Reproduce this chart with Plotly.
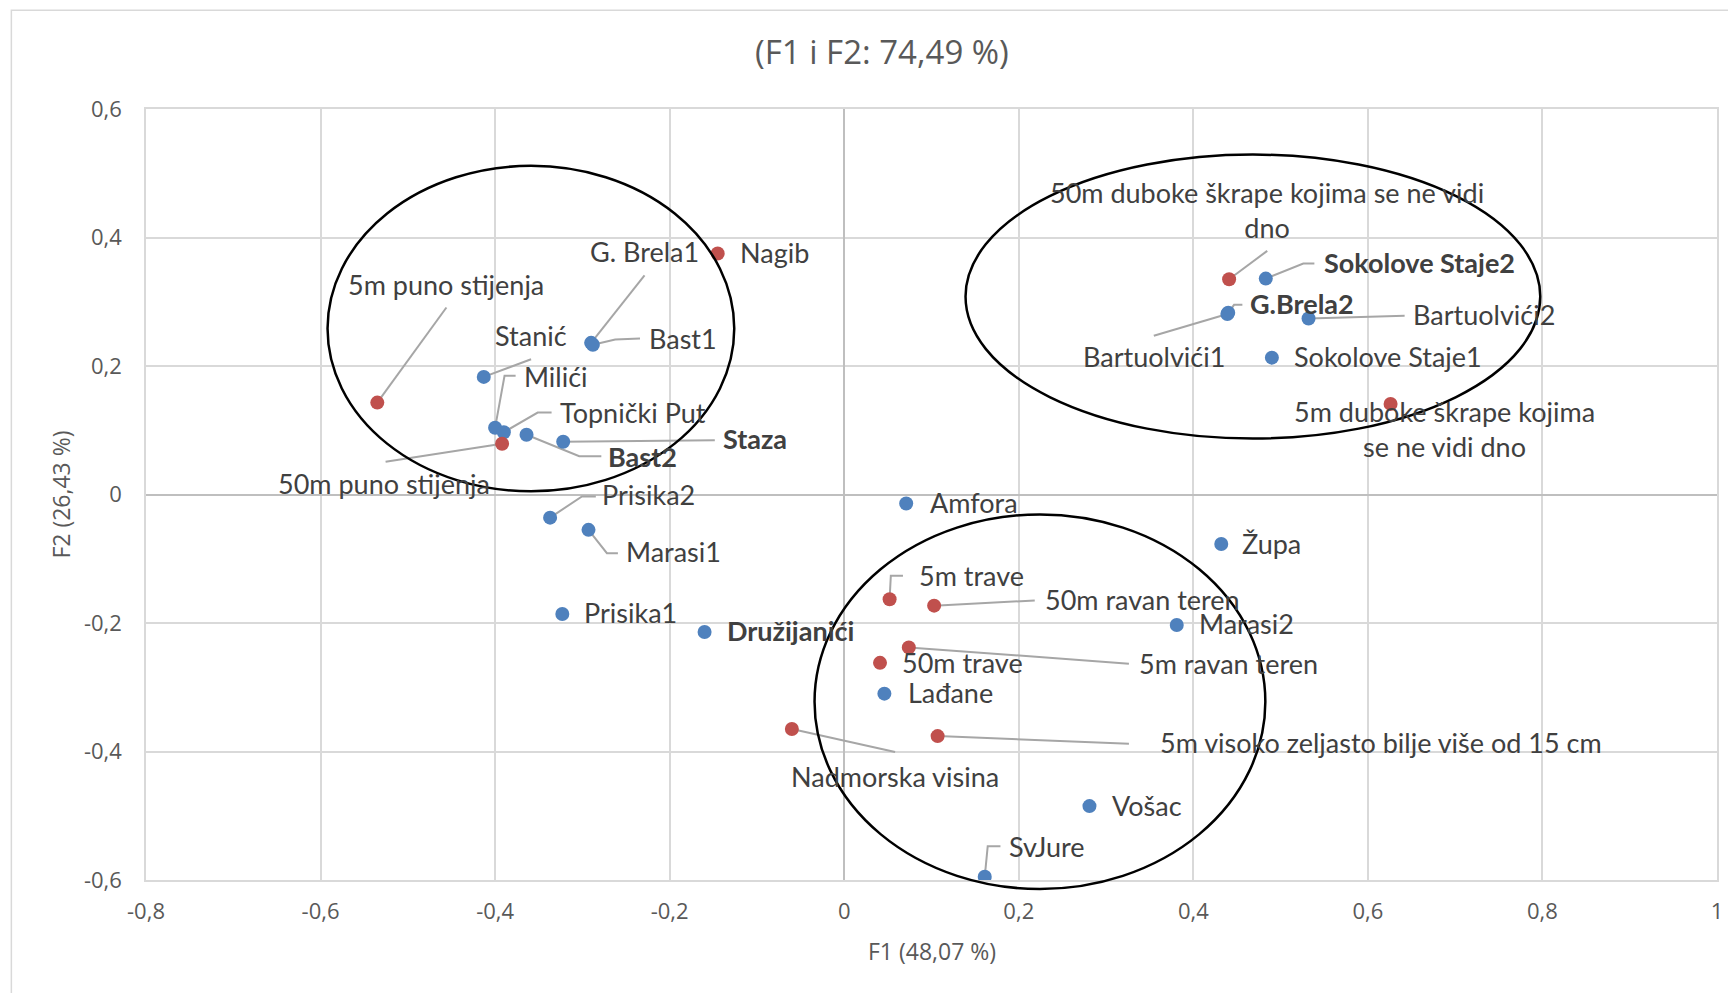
import plotly.graph_objects as go

# ---------------- data ----------------
site_names = ["G. Brela1", "Bast1", "Stanić", "Milići", "Topnički Put", "Bast2", "Staza",
              "Prisika2", "Marasi1", "Prisika1", "Družijanići", "Amfora", "Župa", "Marasi2",
              "Lađane", "Vošac", "SvJure", "Sokolove Staje2", "G.Brela2", "Bartuolvići1",
              "Bartuolvići2", "Sokolove Staje1"]
site_f1 = [-0.290, -0.288, -0.413, -0.400, -0.390, -0.364, -0.322,
           -0.337, -0.293, -0.323, -0.160, 0.071, 0.432, 0.381,
           0.046, 0.281, 0.161, 0.483, 0.440, 0.439,
           0.532, 0.490]
site_f2 = [0.236, 0.233, 0.183, 0.104, 0.097, 0.093, 0.082,
           -0.036, -0.055, -0.186, -0.214, -0.014, -0.077, -0.203,
           -0.310, -0.485, -0.595, 0.336, 0.283, 0.281,
           0.274, 0.213]
site_bold = ["Staza", "Bast2", "Družijanići", "Sokolove Staje2", "G.Brela2"]

var_names = ["5m puno stijenja", "50m puno stijenja", "Nagib", "Nadmorska visina",
             "50m duboke škrape kojima se ne vidi dno", "5m duboke škrape kojima se ne vidi dno",
             "5m trave", "50m ravan teren", "5m ravan teren", "50m trave",
             "5m visoko zeljasto bilje više od 15 cm"]
var_f1 = [-0.535, -0.392, -0.145, -0.060, 0.441, 0.626, 0.052, 0.103, 0.074, 0.041, 0.107]
var_f2 = [0.143, 0.079, 0.375, -0.365, 0.335, 0.141, -0.163, -0.173, -0.238, -0.262, -0.376]
var_display = {
    "50m duboke škrape kojima se ne vidi dno": "50m duboke škrape kojima se ne vidi<br>dno",
    "5m duboke škrape kojima se ne vidi dno": "5m duboke škrape kojima<br>se ne vidi dno",
}

x_tick_vals = [-0.8, -0.6, -0.4, -0.2, 0, 0.2, 0.4, 0.6, 0.8, 1.0]
x_tick_text = ["-0,8", "-0,6", "-0,4", "-0,2", "0", "0,2", "0,4", "0,6", "0,8", "1"]
y_tick_vals = [-0.6, -0.4, -0.2, 0, 0.2, 0.4, 0.6]
y_tick_text = ["-0,6", "-0,4", "-0,2", "0", "0,2", "0,4", "0,6"]

title_text = "(F1 i F2: 74,49 %)"
x_title = "F1 (48,07 %)"
y_title = "F2 (26,43 %)"

X_RANGE = [-0.8, 1.0]
Y_RANGE = [-0.6, 0.6]

# label placement (layout): text centre and leader-line waypoints, in axis units
label_pos = {
    "G. Brela1": (-0.229, 0.374, [(-0.2288, 0.341)]),
    "Bast1": (-0.185, 0.239, [(-0.2624, 0.2412), (-0.234, 0.2428)]),
    "Stanić": (-0.359, 0.243, [(-0.3588, 0.2106)]),
    "Milići": (-0.330, 0.1805, [(-0.3892, 0.1847), (-0.3765, 0.1847)]),
    "Topnički Put": (-0.2415, 0.1245, [(-0.3512, 0.1276), (-0.3353, 0.1276)]),
    "Bast2": (-0.2307, 0.056, [(-0.3036, 0.0597), (-0.2783, 0.0597)]),
    "Staza": (-0.102, 0.083, [(-0.1483, 0.0846)]),
    "Prisika2": (-0.2243, -0.0035, [(-0.3005, -0.003), (-0.2846, -0.003)]),
    "Marasi1": (-0.196, -0.0928, [(-0.2719, -0.0913), (-0.2593, -0.0913)]),
    "Prisika1": (-0.2447, -0.1872, []),
    "Družijanići": (-0.061, -0.2157, []),
    "Amfora": (0.1485, -0.0161, []),
    "Župa": (0.4898, -0.0794, []),
    "Marasi2": (0.4613, -0.2043, []),
    "Lađane": (0.1212, -0.3127, []),
    "Vošac": (0.3471, -0.488, []),
    "SvJure": (0.2323, -0.551, [(0.1644, -0.5475), (0.179, -0.5475)]),
    "Sokolove Staje2": (0.6592, 0.357, [(0.526, 0.3595), (0.5387, 0.3595)]),
    "G.Brela2": (0.5247, 0.2931, [(0.4467, 0.2952), (0.4562, 0.2952)]),
    "Bartuolvići1": (0.3547, 0.2106, [(0.3547, 0.247)]),
    "Bartuolvići2": (0.7335, 0.2765, [(0.6421, 0.2781)]),
    "Sokolove Staje1": (0.623, 0.2106, []),
    "5m puno stijenja": (-0.4558, 0.3222, [(-0.4558, 0.291)]),
    "50m puno stijenja": (-0.5274, 0.013, [(-0.5255, 0.0508)]),
    "Nagib": (-0.0799, 0.3725, []),
    "Nadmorska visina": (0.0583, -0.4421, [(0.0583, -0.4007)]),
    "50m duboke škrape kojima se ne vidi dno": (0.4847, 0.4384, [(0.4847, 0.3792)]),
    "5m duboke škrape kojima se ne vidi dno": (0.6878, 0.0975, []),
    "5m trave": (0.1453, -0.1302, [(0.0534, -0.1265), (0.0673, -0.1265)]),
    "50m ravan teren": (0.342, -0.168, [(0.2183, -0.1649)]),
    "5m ravan teren": (0.4404, -0.2665, [(0.3262, -0.2634)]),
    "50m trave": (0.1358, -0.2649, []),
    "5m visoko zeljasto bilje više od 15 cm": (0.6148, -0.3904, [(0.3262, -0.3878)]),
}

# group ellipses (x0, x1, y0, y1) in axis units
ellipse_x0 = [-0.592, 0.139, -0.034]
ellipse_x1 = [-0.126, 0.7975, 0.4825]
ellipse_y0 = [0.005, 0.087, -0.614]
ellipse_y1 = [0.5115, 0.529, -0.031]

BLUE = "#4F81BD"
RED = "#C0504D"
LABEL_FONT = dict(family="Lato, Carlito, sans-serif", size=27, color="#404040")
AX_FONT = "Open Sans, sans-serif"

fig = go.Figure()

# leader lines
lx, ly = [], []
all_pts = list(zip(site_names, site_f1, site_f2)) + list(zip(var_names, var_f1, var_f2))
for name, px, py in all_pts:
    tx, ty, wps = label_pos[name]
    if wps:
        lx.append(px); ly.append(py)
        for wx, wy in wps:
            lx.append(wx); ly.append(wy)
        lx.append(None); ly.append(None)
fig.add_trace(go.Scatter(x=lx, y=ly, mode="lines", line=dict(color="#A6A6A6", width=2),
                         hoverinfo="skip", showlegend=False))

fig.add_trace(go.Scatter(x=site_f1, y=site_f2, mode="markers", text=site_names,
                         marker=dict(color=BLUE, size=14), showlegend=False))
fig.add_trace(go.Scatter(x=var_f1, y=var_f2, mode="markers", text=var_names,
                         marker=dict(color=RED, size=14), showlegend=False))

annotations = []
for name, _, _ in all_pts:
    tx, ty, _w = label_pos[name]
    txt = var_display.get(name, name)
    if name in site_bold:
        txt = "<b>" + txt + "</b>"
    annotations.append(dict(x=tx, y=ty, xref="x", yref="y", text=txt, showarrow=False,
                            xanchor="center", yanchor="middle", yshift=2.5, font=LABEL_FONT))

annotations.append(dict(x=0.4686, y=1.0745, xref="paper", yref="paper", text=title_text,
                        showarrow=False, xanchor="center", yanchor="middle",
                        font=dict(family=AX_FONT, size=33, color="#595959")))
annotations.append(dict(x=0.5, y=-0.0915, xref="paper", yref="paper", text=x_title,
                        showarrow=False, xanchor="center", yanchor="middle",
                        font=dict(family=AX_FONT, size=23, color="#595959")))
annotations.append(dict(x=-0.0547, y=0.5, xref="paper", yref="paper", text=y_title,
                        showarrow=False, xanchor="center", yanchor="middle", textangle=-90,
                        font=dict(family=AX_FONT, size=23, color="#595959")))


def to_paper_y(v):
    return (v - Y_RANGE[0]) / (Y_RANGE[1] - Y_RANGE[0])


shapes = []
for a, b, c, d in zip(ellipse_x0, ellipse_x1, ellipse_y0, ellipse_y1):
    shapes.append(dict(type="circle", xref="x", yref="paper", x0=a, x1=b,
                       y0=to_paper_y(c), y1=to_paper_y(d),
                       line=dict(color="black", width=2.5), layer="above"))
# chart border
shapes.append(dict(type="rect", xref="paper", yref="paper", x0=-0.0857, x1=1.03,
                   y0=-0.2, y1=1.128, line=dict(color="#D9D9D9", width=1.5), layer="below"))

axis_common = dict(showgrid=True, gridcolor="#D9D9D9", gridwidth=1.5,
                   zeroline=True, zerolinecolor="#BFBFBF", zerolinewidth=1.5,
                   showline=True, linecolor="#D9D9D9", linewidth=1.5, mirror=True,
                   ticks="", tickfont=dict(family=AX_FONT, size=22, color="#595959"))

fig.update_layout(
    width=1736, height=993,
    margin=dict(l=137.6, r=27.4, t=100.7, b=121.3),
    paper_bgcolor="white", plot_bgcolor="white",
    xaxis=dict(range=X_RANGE, tickvals=x_tick_vals, ticktext=x_tick_text,
               ticklabelstandoff=11, **axis_common),
    yaxis=dict(range=Y_RANGE, tickvals=y_tick_vals, ticktext=y_tick_text,
               ticklabelstandoff=18, **axis_common),
    annotations=annotations, shapes=shapes,
)

fig.write_html("out.html")
